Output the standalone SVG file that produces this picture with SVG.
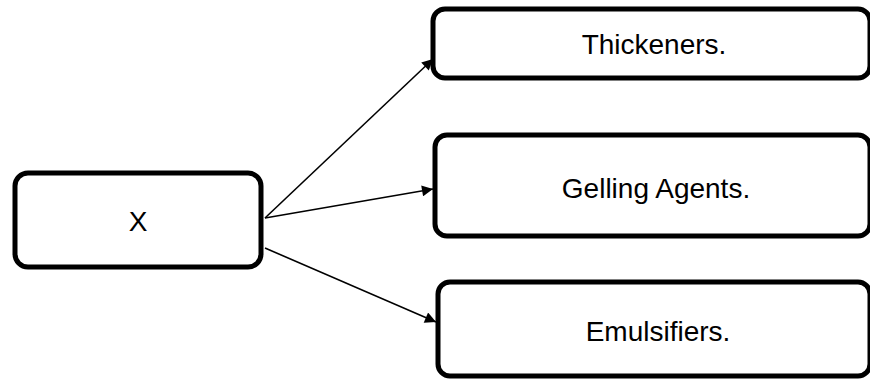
<svg xmlns="http://www.w3.org/2000/svg" width="870" height="380" viewBox="0 0 870 380">
<style>
.box{fill:#fff;stroke:#000;stroke-width:5}
.lbl{font-family:"Liberation Sans",Arial,sans-serif;font-size:28px;fill:#000;text-anchor:middle}
.edge{stroke:#000;stroke-width:1.6;fill:none;marker-end:url(#ah)}
</style>
<defs>
<marker id="ah" viewBox="0 0 10 10" refX="10" refY="5" markerWidth="14" markerHeight="11" markerUnits="userSpaceOnUse" orient="auto">
<path d="M0,0 L10,5 L0,10 z" fill="#000"/>
</marker>
</defs>
<g id="connectors">
<line class="edge" x1="265" y1="218" x2="433" y2="59"/>
<line class="edge" x1="265" y1="218" x2="433" y2="189"/>
<line class="edge" x1="265" y1="248" x2="436" y2="322"/>
</g>
<g id="node-x">
<rect class="box" x="15" y="173" width="246" height="94" rx="13"/>
<text class="lbl" x="138" y="231">X</text>
</g>
<g id="node-thickeners">
<rect class="box" x="433" y="9" width="437" height="69" rx="12"/>
<text class="lbl" x="654" y="54">Thickeners.</text>
</g>
<g id="node-gelling">
<rect class="box" x="435" y="135" width="435" height="101" rx="12"/>
<text class="lbl" x="656" y="198">Gelling Agents.</text>
</g>
<g id="node-emulsifiers">
<rect class="box" x="438" y="282" width="432" height="94" rx="12"/>
<text class="lbl" x="658" y="341">Emulsifiers.</text>
</g>
</svg>
